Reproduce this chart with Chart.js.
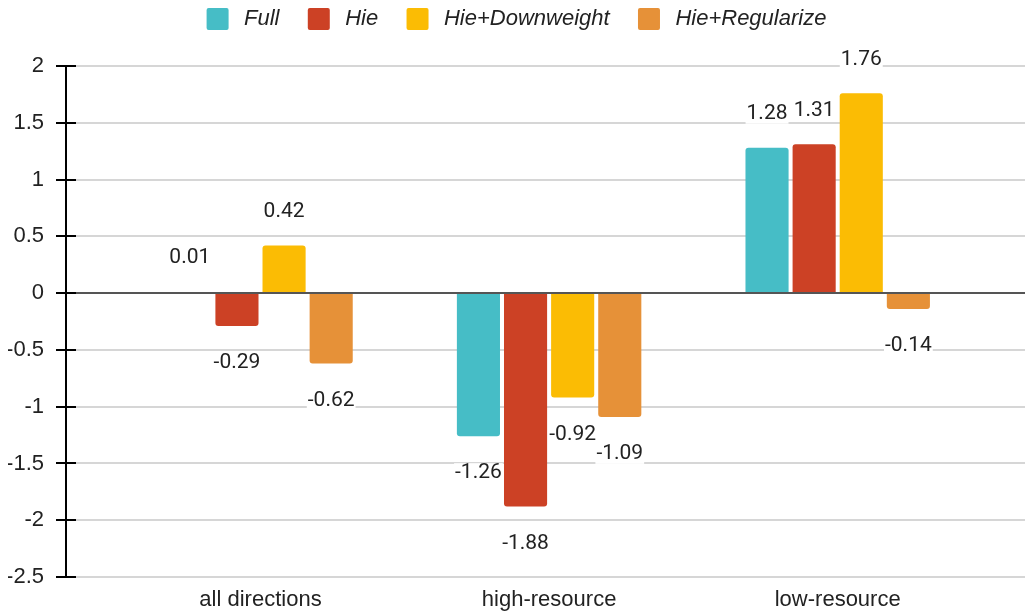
<!DOCTYPE html>
<html>
<head>
<meta charset="utf-8">
<script src="https://cdn.jsdelivr.net/npm/chart.js@4.4.1/dist/chart.umd.min.js"></script>
<style>
  html, body { margin: 0; padding: 0; background: #fff; }
</style>
</head>
<body>
<canvas id="chart" width="1025" height="613"></canvas>
<script>
// chart data
const categories = ['all directions', 'high-resource', 'low-resource'];
const seriesNames = ['Full', 'Hie', 'Hie+Downweight', 'Hie+Regularize'];
const fullValues = [0.01, -1.26, 1.28];
const hieValues = [-0.29, -1.88, 1.31];
const downweightValues = [0.42, -0.92, 1.76];
const regularizeValues = [-0.62, -1.09, -0.14];
const seriesColors = ['#46BDC6', '#CC4125', '#FBBC04', '#E69138'];
const yMin = -2.5, yMax = 2, yStep = 0.5;

const allValues = [fullValues, hieValues, downweightValues, regularizeValues];

const datasets = seriesNames.map((name, s) => ({
  label: name,
  data: categories.map((c, i) => ({ x: i, y: allValues[s][i] })),
  backgroundColor: seriesColors[s],
  borderWidth: 0,
  borderRadius: 3,
  categoryPercentage: 0.653,
  barPercentage: 0.915
}));

// push the plot area down below the legend
const legendGap = {
  id: 'legendGap',
  beforeInit(chart) {
    const fit = chart.legend.fit;
    chart.legend.fit = function () {
      fit.bind(chart.legend)();
      this.height += 26;
    };
  }
};

// small tick marks on the inside of the y axis
const innerTicks = {
  id: 'innerTicks',
  afterDraw(chart) {
    const ctx = chart.ctx;
    const y = chart.scales.y;
    const left = chart.chartArea.left;
    ctx.save();
    ctx.strokeStyle = '#000';
    ctx.lineWidth = 2;
    y.ticks.forEach(t => {
      const py = Math.round(y.getPixelForValue(t.value));
      ctx.beginPath();
      ctx.moveTo(left, py);
      ctx.lineTo(left + 10, py);
      ctx.stroke();
    });
    ctx.restore();
  }
};

// value labels above / below each bar
const valueLabels = {
  id: 'valueLabels',
  afterDatasetsDraw(chart) {
    const ctx = chart.ctx;
    ctx.save();
    ctx.font = '21px Roboto';
    ctx.textAlign = 'center';
    ctx.textBaseline = 'middle';
    chart.data.datasets.forEach((ds, di) => {
      chart.getDatasetMeta(di).data.forEach((bar, i) => {
        const v = ds.data[i].y;
        const txt = v.toFixed(2);
        const ty = v >= 0 ? bar.y - 34 : bar.y + 37;
        const w = ctx.measureText(txt).width + 2;
        ctx.fillStyle = '#fff';
        ctx.fillRect(bar.x - w / 2, ty - 10, w, 20);
        ctx.fillStyle = '#222';
        ctx.fillText(txt, bar.x, ty);
      });
    });
    ctx.restore();
  }
};

new Chart(document.getElementById('chart'), {
  type: 'bar',
  data: { datasets },
  options: {
    responsive: false,
    devicePixelRatio: 1,
    animation: false,
    layout: { padding: { left: 8, right: 0, top: -2, bottom: 0 } },
    plugins: {
      tooltip: { enabled: false },
      legend: {
        position: 'top',
        labels: {
          font: { family: 'Liberation Sans', size: 22, style: 'italic' },
          color: '#222',
          boxWidth: 22,
          boxHeight: 22,
          useBorderRadius: true,
          borderRadius: 2,
          padding: 10,
          generateLabels(chart) {
            const items = Chart.defaults.plugins.legend.labels.generateLabels(chart);
            items.forEach((it, i) => {
              it.text = '\u2009' + it.text + (i < items.length - 1 ? '   ' : '');
            });
            return items;
          }
        }
      }
    },
    scales: {
      x: {
        type: 'linear',
        min: -0.674,
        max: 2.649,
        offset: false,
        grid: { display: false, drawTicks: false, offset: false },
        border: { display: false },
        ticks: {
          stepSize: 1,
          includeBounds: false,
          autoSkip: false,
          maxRotation: 0,
          padding: 10,
          color: '#222',
          font: { family: 'Liberation Sans', size: 22 },
          callback: v => Number.isInteger(v) ? (categories[v] || '') : ''
        },
        afterFit(s) { s.height = 36; }
      },
      y: {
        min: yMin,
        max: yMax,
        ticks: {
          stepSize: yStep,
          padding: 12,
          color: '#222',
          font: { family: 'Liberation Sans', size: 22 },
          callback: v => String(Math.round(v * 10) / 10)
        },
        grid: {
          color: c => c.tick && c.tick.value === 0 ? '#555' : '#d6d6d6',
          lineWidth: 2,
          tickColor: '#000',
          tickLength: 10
        },
        border: { display: true, color: '#000', width: 2 },
        afterFit(s) { s.width = 58; }
      }
    }
  },
  plugins: [legendGap, innerTicks, valueLabels]
});
</script>
</body>
</html>
